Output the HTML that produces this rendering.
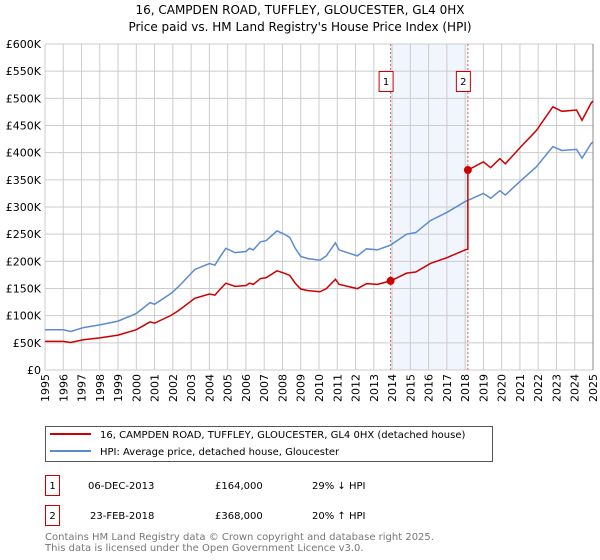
<!DOCTYPE html>
<html><head><meta charset="utf-8"><style>
body{margin:0;background:#fff;}
svg{display:block;font-family:"DejaVu Sans","Liberation Sans",sans-serif;}
</style></head><body>
<svg id="chart" width="600" height="560">
<text x="300" y="14" text-anchor="middle" font-size="12" fill="#000">16, CAMPDEN ROAD, TUFFLEY, GLOUCESTER, GL4 0HX</text>
<text x="300" y="31" text-anchor="middle" font-size="12" fill="#000">Price paid vs. HM Land Registry's House Price Index (HPI)</text>
<g id="grid"></g><g id="axes"></g><g id="series"></g>
<g>
<rect x="45.5" y="426.5" width="447" height="35" fill="#fff" stroke="#555"/>
<line x1="50" y1="434" x2="91" y2="434" stroke="#cc0000" stroke-width="2"/>
<text x="100" y="438" font-size="10">16, CAMPDEN ROAD, TUFFLEY, GLOUCESTER, GL4 0HX (detached house)</text>
<line x1="50" y1="451" x2="91" y2="451" stroke="#5b8bd0" stroke-width="2"/>
<text x="100" y="455" font-size="10">HPI: Average price, detached house, Gloucester</text>
</g>
<g font-size="10">
<rect x="45.5" y="475.5" width="14" height="20" fill="#fff" stroke="#cc0000"/>
<text x="52.5" y="489" text-anchor="middle">1</text>
<text x="88" y="489">06-DEC-2013</text><text x="215" y="489">£164,000</text><text x="312" y="489">29% ↓ HPI</text>
<rect x="45.5" y="505.5" width="14" height="20" fill="#fff" stroke="#cc0000"/>
<text x="52.5" y="519" text-anchor="middle">2</text>
<text x="90" y="519">23-FEB-2018</text><text x="215" y="519">£368,000</text><text x="312" y="519">20% ↑ HPI</text>
</g>
<text x="45" y="540" font-size="10" fill="#777">Contains HM Land Registry data © Crown copyright and database right 2025.</text>
<text x="45" y="551" font-size="10" fill="#777">This data is licensed under the Open Government Licence v3.0.</text>
</svg>
<script>
const yTicks=[0,50,100,150,200,250,300,350,400,450,500,550,600];
const yTickLabels=["£0","£50K","£100K","£150K","£200K","£250K","£300K","£350K","£400K","£450K","£500K","£550K","£600K"];
const xYears=[1995,1996,1997,1998,1999,2000,2001,2002,2003,2004,2005,2006,2007,2008,2009,2010,2011,2012,2013,2014,2015,2016,2017,2018,2019,2020,2021,2022,2023,2024,2025];
const hpiDates=[1995,1996,1996.4,1997.1,1998,1999,2000,2000.75,2001,2001.9,2002.3,2003.2,2004,2004.3,2004.6,2004.9,2005.4,2006,2006.2,2006.4,2006.8,2007.1,2007.7,2008.1,2008.4,2008.7,2009.0,2009.4,2010.05,2010.4,2010.9,2011.1,2012.1,2012.6,2013.2,2013.92,2014.8,2015.3,2016.1,2017.0,2018.0,2019.0,2019.4,2019.9,2020.2,2021.0,2021.9,2022.8,2023.3,2024.1,2024.4,2024.9,2025];
const hpiValues=[74,74,71,78,83,90,104,124,121,141,153,185,196,193,209,224,216,218,224,221,236,238,256,250,244,224,209,205,202,210,234,221,210,223,221,230,250,253,275,290,310,325,316,330,322,347,374,411,404,406,390,417,420];
const saleDates=[2013.92,2018.15];
const salePrices=[164,368];
const X0=45,X1=593,Y0=370,Y1=44;
const xs=y=>X0+(y-1995)/30*(X1-X0);
const ys=v=>Y0-v/600*(Y0-Y1);
const NS="http://www.w3.org/2000/svg";
function mk(tag,attrs,parent){const e=document.createElementNS(NS,tag);for(const k in attrs)e.setAttribute(k,attrs[k]);parent.appendChild(e);return e;}
function hpiAt(d){for(let i=1;i<hpiDates.length;i++){if(d<=hpiDates[i]){const t=(d-hpiDates[i-1])/(hpiDates[i]-hpiDates[i-1]);return hpiValues[i-1]+t*(hpiValues[i]-hpiValues[i-1]);}}return hpiValues[hpiValues.length-1];}
const grid=document.getElementById('grid'),axes=document.getElementById('axes'),ser=document.getElementById('series');
// shaded region
const sh=mk('rect',{x:xs(saleDates[0]),y:Y1,width:xs(saleDates[1])-xs(saleDates[0]),height:Y0-Y1,fill:'#eef3fc',opacity:0.8},grid);


yTicks.forEach((v,i)=>{
 const l=mk('line',{x1:X0,x2:X1,y1:ys(v),y2:ys(v),stroke:'#cccccc'},grid);
 
 
 const t=mk('text',{x:X0-4,y:ys(v)+4,'text-anchor':'end','font-size':11},axes);
 
 
 t.textContent=yTickLabels[i];
});
xYears.forEach(yr=>{
 const l=mk('line',{x1:xs(yr),x2:xs(yr),y1:Y1,y2:Y0,stroke:'#cccccc'},grid);
 
 
 const t=mk('text',{x:0,y:0,'text-anchor':'end','font-size':11,transform:`translate(${xs(yr)+4},374) rotate(-90)`},axes);
 
 
 t.textContent=yr;
});
saleDates.forEach((d,i)=>{
 const l=mk('line',{x1:xs(d),x2:xs(d),y1:Y1,y2:Y0,stroke:'#e06060','stroke-dasharray':'2,2'},grid);
 
 
 const r=mk('rect',{x:xs(d)-11.5,y:71.5,width:14,height:20,fill:'#fff',stroke:'#cc0000'},grid);
 
 
 const t=mk('text',{x:xs(d)-4.5,y:85,'text-anchor':'middle','font-size':10},grid);
 
 
 t.textContent=String(i+1);
});
// HPI line
const hp=mk('polyline',{points:hpiDates.map((d,i)=>xs(d)+','+ys(hpiValues[i])).join(' '),fill:'none',stroke:'#5b8bd0','stroke-width':1.5},ser);


// property line: HPI scaled to sale prices
const r1=salePrices[0]/hpiAt(saleDates[0]), r2=salePrices[1]/hpiAt(saleDates[1]);
const pts=[];
hpiDates.forEach((d,i)=>{ if(d<saleDates[1]) pts.push([d,hpiValues[i]*r1]); });
pts.push([saleDates[1],hpiAt(saleDates[1])*r1]);
pts.push([saleDates[1],salePrices[1]]);
hpiDates.forEach((d,i)=>{ if(d>saleDates[1]) pts.push([d,hpiValues[i]*r2]); });
const pp=mk('polyline',{points:pts.map(p=>xs(p[0])+','+ys(p[1])).join(' '),fill:'none',stroke:'#cc0000','stroke-width':1.5},ser);


saleDates.forEach((d,i)=>{
 const c=mk('circle',{cx:xs(d),cy:ys(salePrices[i]),r:4,fill:'#cc0000'},ser);
 
 
});
const ax=mk('line',{x1:X1,x2:X1,y1:Y1,y2:Y0,stroke:'#888'},axes);


</script>
</body></html>
